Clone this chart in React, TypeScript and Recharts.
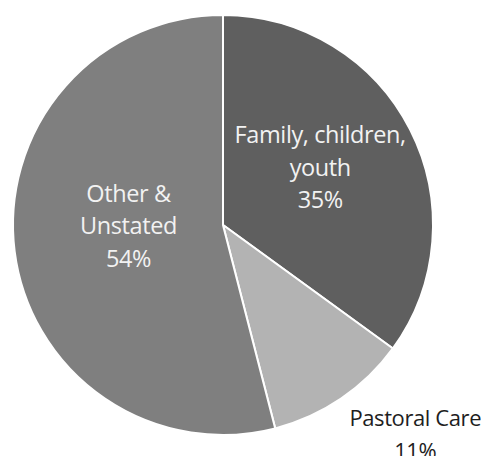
import { PieChart, Pie, Cell } from 'recharts';

const categories = ['Family, children, youth', 'Pastoral Care', 'Other & Unstated'];
const shares = [35, 11, 54];
const labelLines = [['Family, children,', 'youth', '35%'], ['Pastoral Care', '11%'], ['Other &', 'Unstated', '54%']];

const SLICE_COLOR = ['#5f5f5f', '#b3b3b3', '#7f7f7f'];
const LABEL_COLOR = ['#f2f2f2', '#1e1e1e', '#f2f2f2'];
// radius factor, angle nudge (deg) and font size per slice label
const LABEL_POS = [
  { r: 0.54, da: 4, fs: 23.5 },
  { r: 1.35, da: 8.5, fs: 22 },
  { r: 0.45, da: -7, fs: 23.5 },
];

const RAD = Math.PI / 180;

const rows = categories.map((name, i) => ({ name, value: shares[i], lines: labelLines[i] }));

function renderLabel(props: any) {
  const { cx, cy, midAngle, outerRadius, index } = props;
  const pos = LABEL_POS[index];
  const a = (midAngle + pos.da) * RAD;
  const x = cx + outerRadius * pos.r * Math.cos(a);
  const y = cy - outerRadius * pos.r * Math.sin(a);
  const lines: string[] = rows[index].lines;
  const lh = 32.5;
  const top = y - ((lines.length - 1) * lh) / 2;
  return (
    <text
      x={x}
      y={top}
      textAnchor="middle"
      dominantBaseline="central"
      fill={LABEL_COLOR[index]}
      fontSize={pos.fs}
      letterSpacing={-0.4}
      fontFamily="'Open Sans', Lato, sans-serif"
    >
      {lines.map((l, k) => (
        <tspan key={k} x={x} dy={k === 0 ? 0 : lh}>
          {l}
        </tspan>
      ))}
    </text>
  );
}

export default function App() {
  return (
    <div style={{ width: 481, height: 448, background: '#fff' }}>
      <PieChart width={481} height={448} margin={{ top: 0, right: 0, bottom: 0, left: 0 }}>
        <Pie
          data={rows}
          dataKey="value"
          nameKey="name"
          cx={215}
          cy={217}
          outerRadius={210}
          startAngle={90}
          endAngle={-270}
          stroke="#ffffff"
          strokeWidth={2}
          label={renderLabel}
          labelLine={false}
          isAnimationActive={false}
        >
          {rows.map((r, i) => (
            <Cell key={r.name} fill={SLICE_COLOR[i]} />
          ))}
        </Pie>
      </PieChart>
    </div>
  );
}
